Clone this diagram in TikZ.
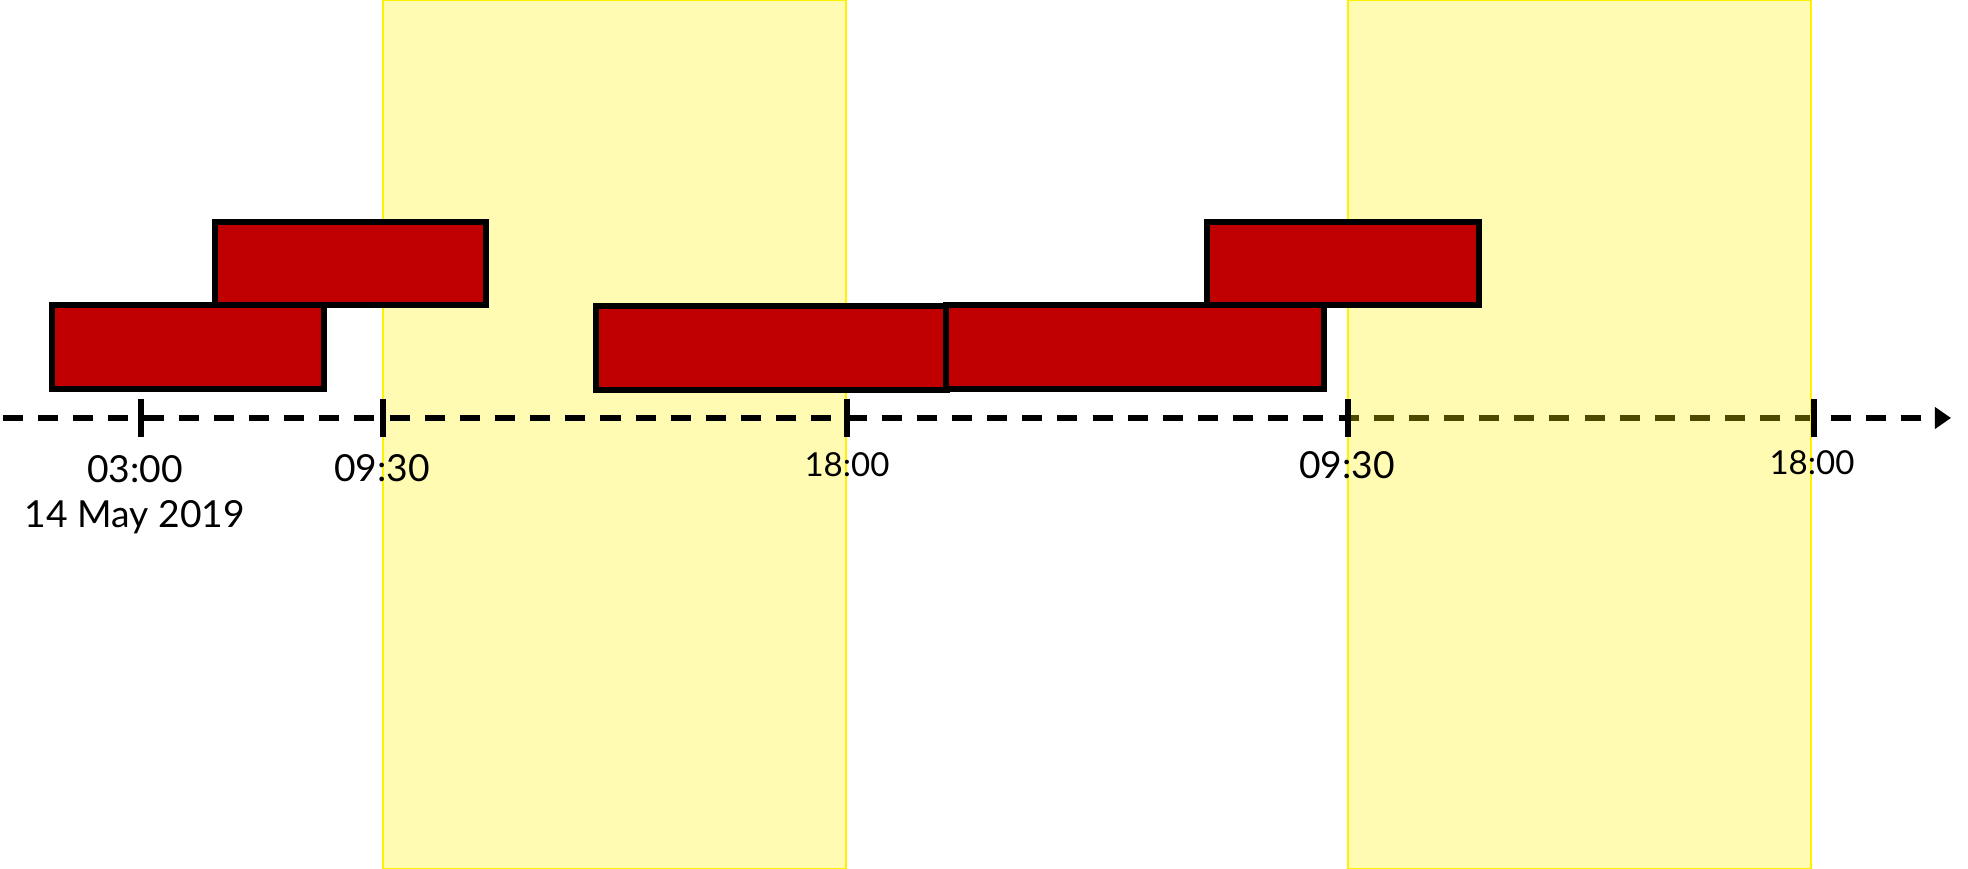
\documentclass[tikz,border=0pt]{standalone}
\usepackage{fontspec}
\setmainfont{Lato}
\usetikzlibrary{arrows.meta}
\definecolor{barred}{HTML}{C00000}

\begin{document}
\begin{tikzpicture}[>={Triangle[length=4.6pt,width=6pt]},
    bar/.style={draw=black, line width=1.7pt, fill=barred},
    band/.style={draw=yellow, line width=0.6pt, fill=yellow, fill opacity=0.3},
    tickmark/.style={line width=1.7pt},
    timelbl/.style={font=\fontsize{10.6}{12.8}\selectfont, inner sep=0pt},
    smalllbl/.style={font=\fontsize{9.4}{11}\selectfont, inner sep=0pt}]
    \useasboundingbox (0,0) rectangle (19.68,8.69);
    \coordinate (start) at (0.03,4.51);
    \coordinate (end) at (19.51,4.51);
    % first working day
    \draw[band] (3.83,0) rectangle (8.46,8.69);
    % time axis
    \draw[->, dash pattern=on 5.7pt off 4.3pt, line width=1.5pt] (start) -- (end);
    % second working day
    \draw[band] (13.48,0) rectangle (18.11,8.69);
    \foreach \t in {1.41, 3.83, 8.47, 13.48, 18.14}
        \draw[tickmark] (\t,4.32) -- (\t,4.70);
    % jobs
    \draw[bar] (0.52,4.80) rectangle (3.24,5.64);
    \draw[bar] (2.15,5.64) rectangle (4.86,6.47);
    \draw[bar] (5.96,4.79) rectangle (9.47,5.63);
    \draw[bar] (9.46,4.80) rectangle (13.24,5.64);
    \draw[bar] (12.07,5.64) rectangle (14.79,6.47);
    % labels
    \node[timelbl, align=center, anchor=north] (day) at (1.35,4.14) {03:00\\14 May 2019};
    \node[timelbl] (open1) at (3.82,4.01) {09:30};
    \node[smalllbl] (close1) at (8.47,4.04) {18:00};
    \node[timelbl] (open2) at (13.47,4.04) {09:30};
    \node[smalllbl] (close2) at (18.12,4.06) {18:00};
\end{tikzpicture}
\end{document}
